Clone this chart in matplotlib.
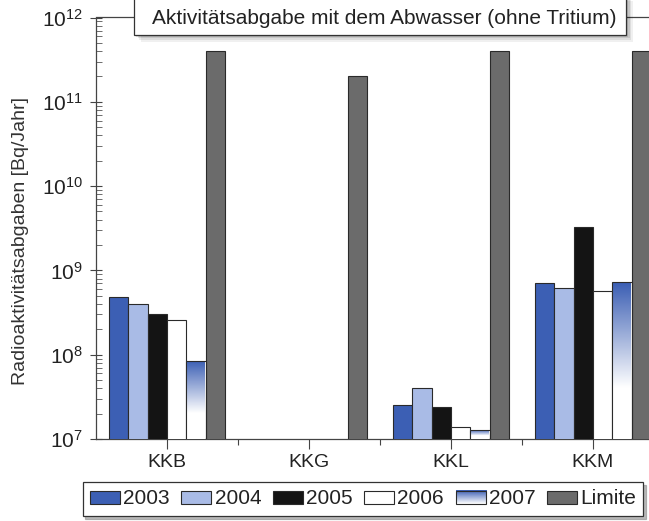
import numpy as np
import matplotlib
matplotlib.use('Agg')
import matplotlib.pyplot as plt
from matplotlib.patches import Rectangle
from matplotlib.colors import LinearSegmentedColormap
from matplotlib.transforms import blended_transform_factory, Bbox, TransformedBbox
from matplotlib.image import BboxImage
from matplotlib.legend_handler import HandlerBase
from matplotlib.ticker import LogLocator, FixedLocator

plt.rcParams['font.family'] = ['Liberation Sans', 'DejaVu Sans']

# Daten (Bq/Jahr)
anlagen = ['KKB', 'KKG', 'KKL', 'KKM']
jahre = ['2003', '2004', '2005', '2006', '2007', 'Limite']
werte_2003 = [4.8e8, np.nan, 2.5e7, 7.0e8]
werte_2004 = [4.0e8, np.nan, 4.0e7, 6.1e8]
werte_2005 = [3.0e8, np.nan, 2.4e7, 3.3e9]
werte_2006 = [2.6e8, np.nan, 1.4e7, 5.7e8]
werte_2007 = [8.5e7, np.nan, 1.28e7, 7.2e8]
limite = [4e11, 2e11, 4e11, 4e11]
serien = [werte_2003, werte_2004, werte_2005, werte_2006, werte_2007, limite]

farben = ['#3c5fb4', '#a9bbe6', '#141414', '#ffffff', '#ffffff', '#6b6b6b']
kante = '#2a2a2a'
blau_verlauf = LinearSegmentedColormap.from_list('verlauf', ['#3c5fb4', '#ffffff'])
verlauf = np.concatenate([np.linspace(0, 1, 68), np.ones(32)]).reshape(-1, 1)

fig = plt.figure(figsize=(6.49, 5.21), dpi=100)
ax = fig.add_axes([96 / 649, 82 / 521, 568 / 649, 421.5 / 521])

x = np.arange(len(anlagen))
breite = 0.136
alle_bars = []
for i, (jahr, werte) in enumerate(zip(jahre, serien)):
    pos = x + (i - 2.5) * breite
    bars = ax.bar(pos, werte, width=breite, color=farben[i],
                  edgecolor=kante, linewidth=0.8, zorder=3, label=jahr)
    alle_bars.append((bars, pos, werte))

ax.set_yscale('log')
ax.set_ylim(1e7, 1e12)
ax.set_xlim(-0.5, 3.5)

# Verlauf für 2007 (blau oben -> weiss unten)
bars, pos, werte = alle_bars[4]
trans = blended_transform_factory(ax.transData, ax.transAxes)
to_axes = ax.transData + ax.transAxes.inverted()
for b, p, v in zip(bars, pos, werte):
    if np.isnan(v):
        continue
    oben = to_axes.transform((p, v))[1]
    ax.imshow(verlauf, cmap=blau_verlauf, vmin=0, vmax=1, aspect='auto',
              extent=[p - breite / 2, p + breite / 2, 0, oben],
              transform=trans, origin='upper', zorder=3.5, interpolation='bilinear')
    b.set_facecolor('none')
    b.set_zorder(4)
ax.set_xlim(-0.5, 3.5)
ax.set_ylim(1e7, 1e12)

ax.set_xticks(x)
ax.set_xticklabels(anlagen, fontsize=14, color='#222222')
ax.xaxis.set_minor_locator(FixedLocator([0.5, 1.5, 2.5]))
ax.tick_params(axis='x', which='major', direction='out', length=7, width=0.8,
               color='#444444', pad=4)
ax.tick_params(axis='x', which='minor', direction='out', length=4, width=0.8,
               color='#444444')

ax.yaxis.set_major_locator(LogLocator(base=10, numticks=10))
ax.yaxis.set_minor_locator(LogLocator(base=10, subs=np.arange(2, 10), numticks=20))
ax.tick_params(axis='y', which='major', direction='inout', length=9, width=0.8,
               color='#444444', labelsize=15, labelcolor='#222222', pad=5)
ax.tick_params(axis='y', which='minor', direction='in', length=4, width=0.6,
               color='#555555')

ax.set_ylabel('Radioaktivitätsabgaben [Bq/Jahr]', fontsize=14, color='#333333')
ax.yaxis.set_label_coords(-0.118, 0.47)

ax.grid(axis='y', which='major', linestyle=(0, (5, 4)), color='#777777',
        linewidth=0.8, zorder=1)
ax.set_axisbelow(True)
for tick in ax.yaxis.get_major_ticks():
    if tick.get_loc() <= 1e7 or tick.get_loc() >= 1e12:
        tick.gridline.set_visible(False)
for s in ax.spines.values():
    s.set_color('#444444')
    s.set_linewidth(0.9)

# Titelbox mit Schatten
for k, a in enumerate([0.12, 0.10, 0.08, 0.06]):
    off = 2 + k * 1.5
    fig.add_artist(Rectangle(((134 + off) / 649, 1 - (35 + off) / 521), 492 / 649, 40 / 521,
                             transform=fig.transFigure, facecolor='#000000',
                             edgecolor='none', alpha=a, zorder=5))
fig.add_artist(Rectangle((134 / 649, 1 - 35 / 521), 492 / 649, 40 / 521,
                         transform=fig.transFigure, facecolor='white',
                         edgecolor='#333333', linewidth=0.9, zorder=6))
fig.text(384 / 649, 1 - 18 / 521, 'Aktivitätsabgabe mit dem Abwasser (ohne Tritium)',
         ha='center', va='center', fontsize=15, color='#222222', zorder=7)


class HandlerVerlauf(HandlerBase):
    def create_artists(self, legend, orig_handle, xdescent, ydescent,
                       width, height, fontsize, trans):
        bb = TransformedBbox(Bbox.from_bounds(-xdescent, -ydescent, width, height), trans)
        img = BboxImage(bb, cmap=blau_verlauf, norm=plt.Normalize(0, 1),
                        interpolation='bilinear')
        img.set_data(np.linspace(0, 1, 20).reshape(-1, 1))
        rahmen = Rectangle((-xdescent, -ydescent), width, height, facecolor='none',
                           edgecolor=kante, linewidth=0.8, transform=trans)
        return [img, rahmen]


handles, labels = ax.get_legend_handles_labels()
leg = fig.legend(handles, labels, loc='center', bbox_to_anchor=(363 / 649, 1 - 499 / 521),
                 ncol=6, fontsize=15, frameon=True, fancybox=False,
                 shadow={'color': '0.55', 'alpha': 0.6},
                 handlelength=1.45, handleheight=0.6, handletextpad=0.15,
                 columnspacing=0.55, borderpad=0.35,
                 handler_map={handles[4]: HandlerVerlauf()})
leg.get_frame().set_edgecolor('#333333')
leg.get_frame().set_linewidth(0.9)
for t in leg.get_texts():
    t.set_color('#222222')

fig.savefig('out.png', dpi=100)
